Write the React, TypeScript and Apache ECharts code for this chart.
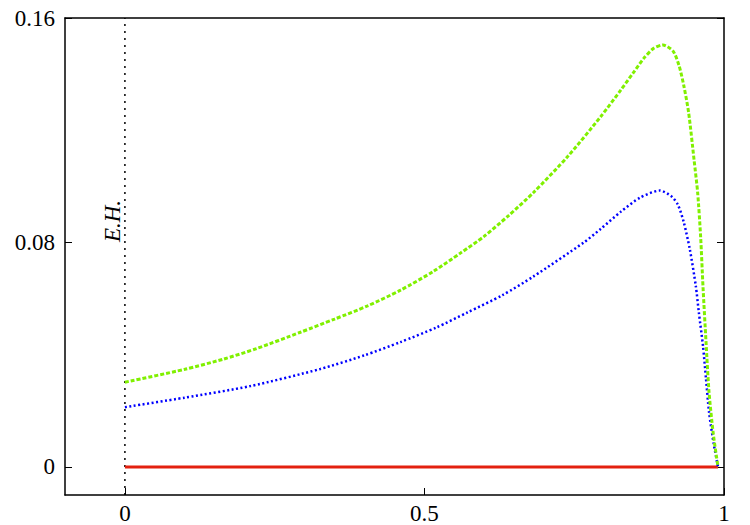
import React, { useEffect, useRef } from "react";
import * as echarts from "echarts";

const xTickValues = [0, 0.5, 1];
const yTickValues = [0, 0.08, 0.16];

const greenCurve: [number, number][] = [
  [0, 0.0302], [0.1, 0.0348], [0.164, 0.0384], [0.22, 0.0422], [0.293, 0.048],
  [0.35, 0.0527], [0.405, 0.0574], [0.46, 0.063], [0.515, 0.0697], [0.56, 0.0762],
  [0.599, 0.0821], [0.64, 0.0895], [0.682, 0.0978], [0.739, 0.1106], [0.794, 0.1248],
  [0.828, 0.1344], [0.849, 0.1406], [0.866, 0.1456], [0.882, 0.1491], [0.898, 0.1504],
  [0.915, 0.1482], [0.925, 0.143], [0.933, 0.1358], [0.941, 0.1262], [0.95, 0.1095],
  [0.956, 0.0978], [0.961, 0.082], [0.965, 0.064], [0.97, 0.0445], [0.975, 0.0267],
  [0.982, 0.012], [0.99, 0],
];

const blueCurve: [number, number][] = [
  [0, 0.0213], [0.1, 0.0247], [0.209, 0.0288], [0.326, 0.0349], [0.4, 0.0398],
  [0.46, 0.0445], [0.52, 0.0497], [0.572, 0.0551], [0.63, 0.0612], [0.682, 0.0679],
  [0.766, 0.08], [0.794, 0.0848], [0.828, 0.091], [0.86, 0.096], [0.893, 0.0985],
  [0.912, 0.0965], [0.923, 0.0935], [0.933, 0.0871], [0.943, 0.0775], [0.953, 0.0644],
  [0.958, 0.0551], [0.965, 0.043], [0.97, 0.0313], [0.975, 0.0196], [0.983, 0.008],
  [0.99, 0],
];

const redCurve: [number, number][] = [[0, 0], [0.99, 0]];

const horizonLine: [number, number][] = [[0, -0.01], [0, 0.16]];

export default function App() {
  const ref = useRef<HTMLDivElement>(null);
  useEffect(() => {
    document.body.style.margin = "0";
    const chart = echarts.init(ref.current!, null, { renderer: "svg" });
    const font = "Liberation Serif";
    const axisLine = { show: true, onZero: false, lineStyle: { color: "#000", width: 1.5 } };
    const labelStyle = { color: "#000", fontFamily: font, fontSize: 23 };
    chart.setOption({
      animation: false,
      backgroundColor: "#fff",
      textStyle: { fontFamily: font, fontSize: 23 },
      grid: { left: 65, top: 18, right: 26, bottom: 30, containLabel: false },
      xAxis: [
        {
          type: "value", min: -0.1, max: 1, position: "bottom",
          axisLine,
          splitLine: { show: false },
          axisTick: { show: true, inside: true, length: 7, customValues: xTickValues, lineStyle: { color: "#000", width: 1 } },
          axisLabel: { show: true, customValues: xTickValues, margin: 7, ...labelStyle,
            formatter: (v: number) => String(v) },
        },
        {
          type: "value", min: -0.1, max: 1, position: "top",
          axisLine, splitLine: { show: false }, axisTick: { show: false }, axisLabel: { show: false },
        },
      ],
      yAxis: [
        {
          type: "value", min: -0.01, max: 0.16, position: "left",
          axisLine, splitLine: { show: false },
          axisTick: { show: true, inside: true, length: 7, customValues: yTickValues, lineStyle: { color: "#000", width: 1 } },
          axisLabel: { show: true, customValues: yTickValues, margin: 10, ...labelStyle,
            formatter: (v: number) => String(v) },
        },
        {
          type: "value", min: -0.01, max: 0.16, position: "right",
          axisLine, splitLine: { show: false },
          axisTick: { show: true, inside: true, length: 7, customValues: yTickValues, lineStyle: { color: "#000", width: 1 } },
          axisLabel: { show: false },
        },
      ],
      series: [
        {
          type: "line", data: horizonLine, showSymbol: false, symbol: "none",
          lineStyle: { color: "#000", width: 1.5, type: [2, 5] },
        },
        {
          type: "line", data: redCurve, showSymbol: false, symbol: "none",
          lineStyle: { color: "#e3200f", width: 3 },
        },
        {
          type: "line", data: blueCurve, showSymbol: false, symbol: "none", smooth: 0.25,
          lineStyle: { color: "#0000ff", width: 2.5, type: [2, 2.5] },
        },
        {
          type: "line", data: greenCurve, showSymbol: false, symbol: "none", smooth: 0.25,
          lineStyle: { color: "#80f000", width: 3, type: [4, 2] },
        },
      ],
      graphic: [
        {
          type: "text", x: 112, y: 221, rotation: Math.PI / 2,
          style: { text: "E.H.", font: "italic 23px 'Liberation Serif'", fill: "#000",
            align: "center", verticalAlign: "middle" },
        },
      ],
    });
    return () => chart.dispose();
  }, []);
  return <div ref={ref} style={{ width: 750, height: 525 }} />;
}
